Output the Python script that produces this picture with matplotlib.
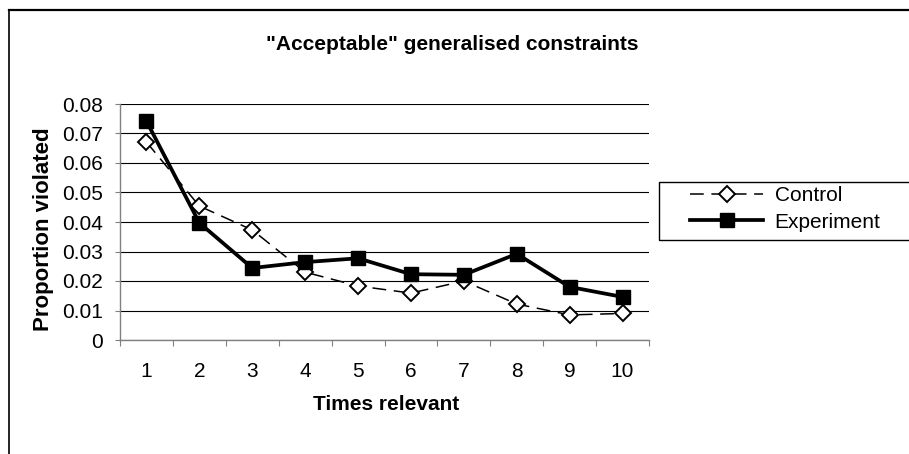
import numpy as np
import matplotlib.pyplot as plt
from matplotlib.patches import Rectangle
from matplotlib.lines import Line2D

plt.rcParams["font.family"] = ["Liberation Sans", "DejaVu Sans"]

times = [1, 2, 3, 4, 5, 6, 7, 8, 9, 10]
control = [0.0671, 0.0454, 0.0373, 0.0230, 0.0183, 0.0159, 0.0200, 0.0122, 0.0085, 0.0090]
experiment = [0.0742, 0.0397, 0.0244, 0.0264, 0.0277, 0.0223, 0.0221, 0.0292, 0.0180, 0.0146]
yticks = [0, 0.01, 0.02, 0.03, 0.04, 0.05, 0.06, 0.07, 0.08]
ylabels = ["0", "0.01", "0.02", "0.03", "0.04", "0.05", "0.06", "0.07", "0.08"]

FS = 15
W, H = 909, 454
fig = plt.figure(figsize=(W / 100, H / 100), dpi=100)
ax = fig.add_axes([120 / W, 1 - 340 / H, (649 - 120) / W, (340 - 104) / H])

ax.plot(times, control, color="black", lw=1.1, dashes=(9, 5),
        marker="D", ms=8, mfc="white", mec="black", mew=1.4, zorder=3)
ax.plot(times, experiment, color="black", lw=2.7,
        marker="s", ms=10.5, mfc="black", mec="black", zorder=4)

ax.set_xlim(0.5, 10.5)
ax.set_ylim(0, 0.08)
ax.set_yticks(yticks)
ax.set_yticklabels(ylabels)
ax.yaxis.grid(True, color="black", lw=0.8)
ax.set_axisbelow(True)

ax.set_xticks(np.arange(0.5, 11, 1))
ax.set_xticklabels([])
ax.set_xticks(times, minor=True)
ax.set_xticklabels([str(t) for t in times], minor=True)
ax.tick_params(axis="x", which="minor", length=0, pad=16, labelsize=FS)
ax.tick_params(axis="x", which="major", length=4, color="#808080", direction="out")
ax.tick_params(axis="y", length=3.6, color="#808080", direction="out", labelsize=FS, pad=8.6)

for s in ("top", "right"):
    ax.spines[s].set_visible(False)
for s in ("left", "bottom"):
    ax.spines[s].set_color("#808080")
    ax.spines[s].set_linewidth(1.0)

ax.set_xlabel("Times relevant", fontsize=FS, fontweight="bold")
ax.xaxis.set_label_coords((386 - 120) / 529, -(395 - 340) / 236)
ax.set_ylabel("Proportion violated", fontsize=16, fontweight="bold")
ax.yaxis.set_label_coords((54 - 120) / 529, (340 - 229) / 236)
fig.text(452 / W, 1 - 50 / H, '"Acceptable" generalised constraints',
         ha="center", va="baseline", fontsize=FS, fontweight="bold")

# outer chart border (runs off right and bottom edges)
fig.add_artist(Line2D([9 / W, 9 / W], [0, 1 - 10 / H], color="black", lw=1.2))
fig.add_artist(Line2D([9 / W, 1], [1 - 10 / H, 1 - 10 / H], color="black", lw=1.6))

# legend box
fig.add_artist(Rectangle((659 / W, 1 - 240 / H), 300 / W, 58 / H, transform=fig.transFigure,
                         fill=False, edgecolor="black", lw=1.0))
h1 = Line2D([], [], color="black", lw=1.1, dashes=(9, 5), marker="D", ms=8,
            mfc="white", mec="black", mew=1.4)
h2 = Line2D([], [], color="black", lw=2.7, marker="s", ms=10.5, mfc="black")
fig.legend([h1, h2], ["Control", "Experiment"], loc="center left",
           bbox_to_anchor=(682 / W, 1 - 209 / H), frameon=False, fontsize=FS,
           handlelength=3.5, handletextpad=0.55, labelspacing=0.35, numpoints=1,
           borderaxespad=0)

fig.savefig("out.png", dpi=100)
